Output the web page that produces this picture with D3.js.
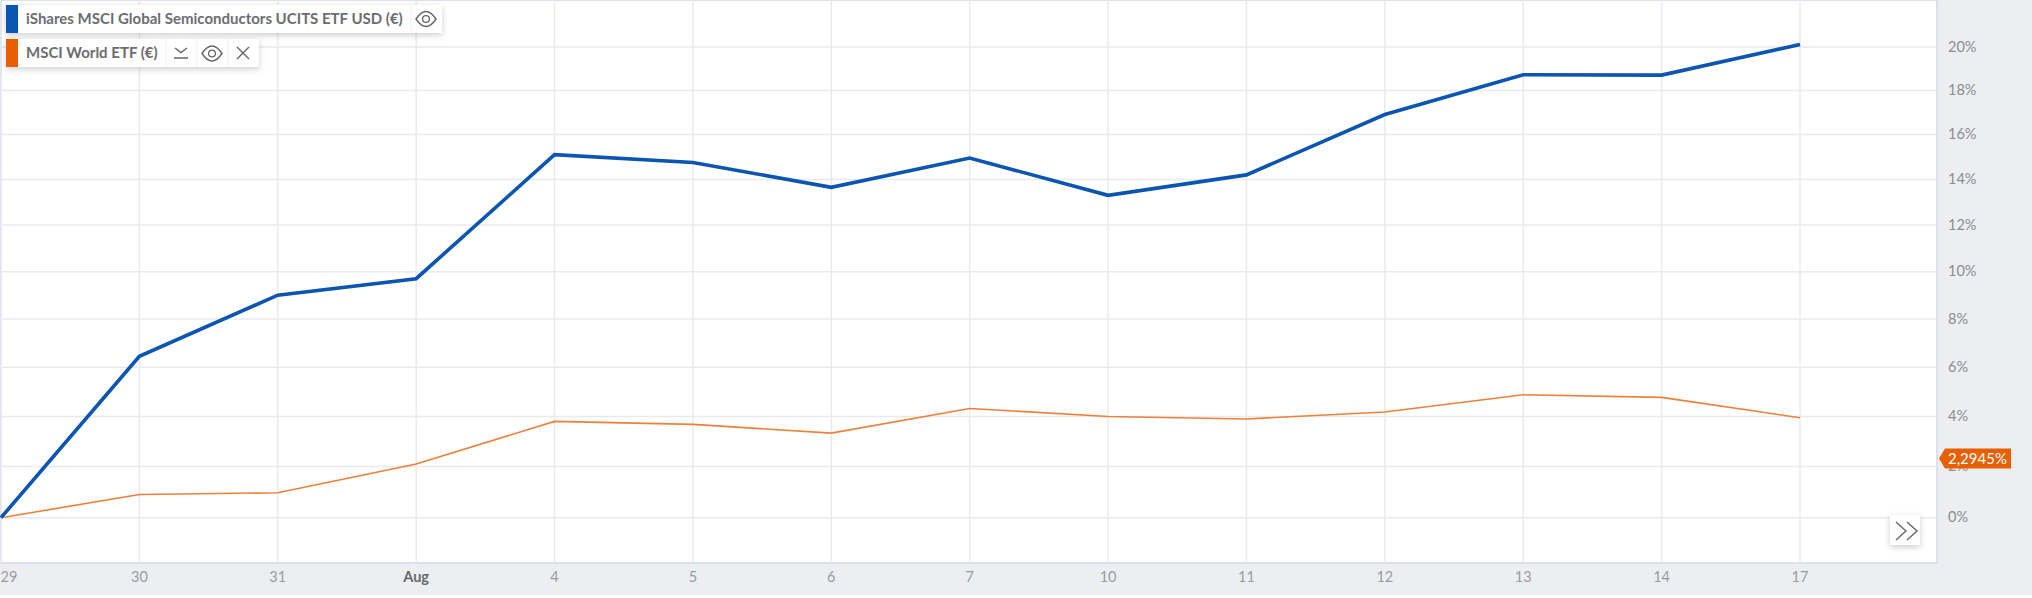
<!DOCTYPE html>
<meta charset="utf-8">
<script src="https://d3js.org/d3.v7.min.js"></script>
<style>
  html, body { margin: 0; padding: 0; background: #fff; overflow: hidden; }
  text { font-family: Lato, "Open Sans", sans-serif; }
</style>
<svg id="chart" width="2032" height="598"></svg>
<script>
// x categories, one per trading day
var days = ["29", "30", "31", "Aug", "4", "5", "6", "7", "10", "11", "12", "13", "14", "17"];
var percentTicks = [0, 2, 4, 6, 8, 10, 12, 14, 16, 18, 20];

var semiconductors = [0, 6.45, 9.0, 9.7, 15.1, 14.75, 13.65, 14.95, 13.3, 14.2, 16.9, 18.72, 18.7, 20.12];
var msciWorld = [0, 0.9, 0.97, 2.1, 3.8, 3.68, 3.33, 4.32, 4.0, 3.9, 4.18, 4.88, 4.77, 3.95];

var lastValue = 2.2945;
var blue = "#0b55b3", orange = "#e85f00";

var svg = d3.select("#chart");
var plot = { left: 1, right: 1937, top: 0, bottom: 563 };

svg.append("rect").attr("width", 2032).attr("height", 595).attr("fill", "#eceef2");
svg.append("rect")
    .attr("x", plot.left).attr("y", plot.top)
    .attr("width", plot.right - plot.left).attr("height", plot.bottom - plot.top)
    .attr("fill", "#fff").attr("stroke", "#d5d9e6").attr("stroke-width", 1.5);

// the percent axis is logarithmic, so scale the growth factor
var x = d3.scalePoint().domain(days).range([1, 1800]);
var yLog = d3.scaleLog().domain([100, 120]).range([517.7, 47]);
var y = function (p) { return yLog(100 + p); };

// grid
svg.append("g").selectAll("line").data(days).join("line")
    .attr("x1", d => x(d)).attr("x2", d => x(d))
    .attr("y1", plot.top).attr("y2", plot.bottom)
    .attr("stroke", "#e9eaee").attr("stroke-width", 1.5);
svg.append("g").selectAll("line").data(percentTicks).join("line")
    .attr("x1", plot.left).attr("x2", plot.right)
    .attr("y1", d => y(d)).attr("y2", d => y(d))
    .attr("stroke", "#e9eaee").attr("stroke-width", 1.5);

// axis labels
svg.append("g").selectAll("text").data(percentTicks).join("text")
    .attr("x", 1948).attr("y", d => y(d) + 4.5)
    .attr("font-size", 14.5).attr("fill", "#8a8c90")
    .text(d => d + "%");
svg.append("g").selectAll("text").data(days).join("text")
    .attr("x", d => d === "29" ? 9 : x(d))
    .attr("y", 582)
    .attr("text-anchor", "middle")
    .attr("font-size", 14.5)
    .attr("font-weight", d => d === "Aug" ? 700 : 400)
    .attr("fill", d => d === "Aug" ? "#66686c" : "#9a9ca0")
    .text(d => d);

// series
var line = d3.line().x((d, i) => x(days[i])).y(d => y(d));
svg.append("path").datum(msciWorld).attr("d", line)
    .attr("fill", "none").attr("stroke", "#f07f38").attr("stroke-width", 1.6);
svg.append("path").datum(semiconductors).attr("d", line)
    .attr("fill", "none").attr("stroke", blue).attr("stroke-width", 3.6);

// last value tag
var tagY = 458.5;
svg.append("path")
    .attr("d", "M1939," + tagY + "L1945," + (tagY - 10) + "H2011V" + (tagY + 10) + "H1945Z")
    .attr("fill", orange);
svg.append("text")
    .attr("x", 1948).attr("y", tagY + 5)
    .attr("font-size", 15).attr("fill", "#fff")
    .text(String(lastValue).replace(".", ",") + "%");

// drop shadow for the floating widgets
var defs = svg.append("defs");
var shadow = defs.append("filter").attr("id", "shadow")
    .attr("x", "-20%").attr("y", "-40%").attr("width", "140%").attr("height", "200%");
shadow.append("feDropShadow")
    .attr("dx", 0).attr("dy", 2).attr("stdDeviation", 3)
    .attr("flood-color", "#000").attr("flood-opacity", 0.2);

function box(x0, y0, w, h) {
    return svg.append("rect").attr("x", x0).attr("y", y0).attr("width", w).attr("height", h)
        .attr("fill", "#fff").attr("filter", "url(#shadow)");
}
function icon(d) {
    return svg.append("path").attr("d", d).attr("fill", "none")
        .attr("stroke", "#666").attr("stroke-width", 1.4);
}
function eye(cx, cy) {
    icon("M" + (cx - 10) + "," + cy + "Q" + cx + "," + (cy - 15) + " " + (cx + 10) + "," + cy +
        "Q" + cx + "," + (cy + 15) + " " + (cx - 10) + "," + cy + "Z");
    svg.append("circle").attr("cx", cx).attr("cy", cy).attr("r", 3.4)
        .attr("fill", "none").attr("stroke", "#666").attr("stroke-width", 1.3);
}
function legendLabel(y0, label) {
    svg.append("text").attr("x", 26).attr("y", y0 + 18.5)
        .attr("font-size", 15).attr("font-weight", 700).attr("fill", "#6b6d70")
        .text(label);
}

// legend row 1
box(6, 5, 436, 28);
svg.append("rect").attr("x", 6).attr("y", 5).attr("width", 12).attr("height", 28).attr("fill", blue);
legendLabel(5, "iShares MSCI Global Semiconductors UCITS ETF USD (€)");
svg.append("line").attr("x1", 411).attr("x2", 411).attr("y1", 5).attr("y2", 33).attr("stroke", "#f0f0f0");
eye(426, 19);

// legend row 2
box(6, 39, 253, 28);
svg.append("rect").attr("x", 6).attr("y", 39).attr("width", 12).attr("height", 28).attr("fill", orange);
legendLabel(39, "MSCI World ETF (€)");
[166, 197, 228].forEach(function (bx) {
    svg.append("line").attr("x1", bx).attr("x2", bx).attr("y1", 39).attr("y2", 67).attr("stroke", "#f0f0f0");
});
icon("M175,48L181,52.5L187,48M174,58H188");
eye(212, 53.5);
icon("M237,47L249,59M249,47L237,59");

// scroll button
box(1890, 515, 30, 30);
icon("M1896,522L1906,531L1896,540");
icon("M1907,522L1917,531L1907,540");
</script>
